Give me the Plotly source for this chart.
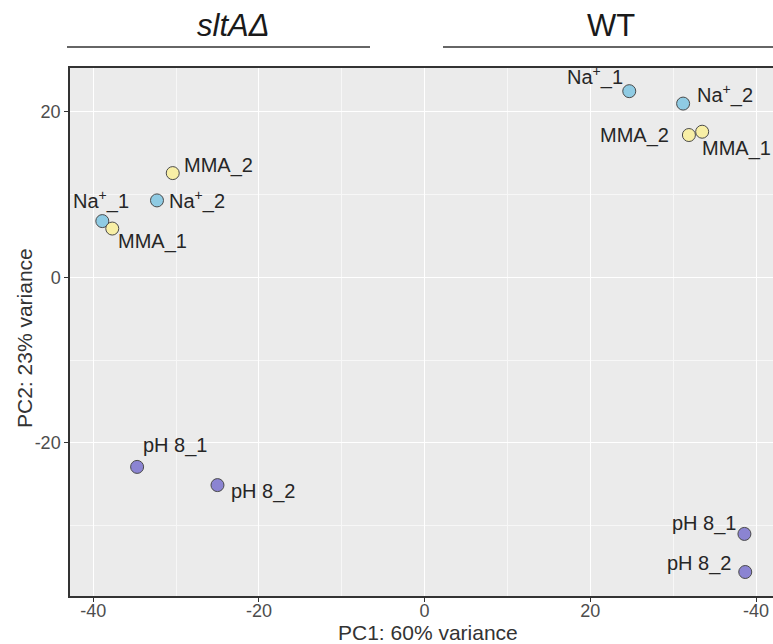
import plotly.graph_objects as go

# Data
labels = ["Na<sup>+</sup>_1", "MMA_1", "Na<sup>+</sup>_2", "MMA_2", "pH 8_1", "pH 8_2",
          "Na<sup>+</sup>_1", "Na<sup>+</sup>_2", "MMA_2", "MMA_1", "pH 8_1", "pH 8_2"]
condition = ["Na", "MMA", "Na", "MMA", "pH8", "pH8",
             "Na", "Na", "MMA", "MMA", "pH8", "pH8"]
pc1 = [-38.9, -37.7, -32.3, -30.4, -34.7, -25.0,
       24.7, 31.2, 31.9, 33.5, 38.6, 38.7]
pc2 = [6.8, 5.9, 9.3, 12.6, -22.9, -25.1,
       22.5, 21.0, 17.2, 17.6, -31.0, -35.6]
x_tickvals = [-40, -20, 0, 20, 40]
x_ticktext = ["-40", "-20", "0", "20", "-40"]
y_tickvals = [-20, 0, 20]
y_ticktext = ["-20", "0", "20"]
facets = ["<i>sltAΔ</i>", "WT"]

colors = {"Na": "#8FCBE3", "MMA": "#F8EFA6", "pH8": "#8B84D2"}

# label offsets (pixels) for repel-like placement
label_shift = [(-1, 21), (40, -13), (40, 0), (46, 8), (38, 21), (46, -6),
               (-34, 15), (42, 10), (-54, 0), (34, -17), (-40, 10), (-46, 9)]

W, H = 773, 644
L, R, T, B = 70, 0, 68, 48
pw, ph = W - L - R, H - T - B

def px2paper(p):
    return (p - L) / pw

def py2paper(py):
    return (H - B - py) / ph

fig = go.Figure()
fig.add_trace(go.Scatter(
    x=pc1, y=pc2, mode="markers",
    marker=dict(size=13, color=[colors[c] for c in condition],
                line=dict(color="#4A4A4A", width=1)),
    hoverinfo="skip", showlegend=False))

for xv, yv, lab, (dx, dy) in zip(pc1, pc2, labels, label_shift):
    fig.add_annotation(x=xv, y=yv, text=lab, showarrow=False,
                       xshift=dx, yshift=dy, xanchor="center", yanchor="middle",
                       font=dict(family="Liberation Sans, Arial", size=20, color="#262626"))

header_font = dict(family="Liberation Sans, Arial", size=31, color="#1a1a1a")
fig.add_annotation(x=px2paper(233), y=py2paper(26), xref="paper", yref="paper",
                   xanchor="center", yanchor="middle",
                   text=facets[0], showarrow=False, font=header_font)
fig.add_annotation(x=px2paper(611), y=py2paper(26), xref="paper", yref="paper",
                   xanchor="center", yanchor="middle",
                   text=facets[1], showarrow=False, font=header_font)

fig.add_shape(type="line", xref="paper", yref="paper",
              x0=px2paper(67), x1=px2paper(370), y0=py2paper(47), y1=py2paper(47),
              line=dict(color="#333333", width=1.5))
fig.add_shape(type="line", xref="paper", yref="paper",
              x0=px2paper(443), x1=px2paper(780), y0=py2paper(47), y1=py2paper(47),
              line=dict(color="#333333", width=1.5))

# axis titles
fig.add_annotation(x=px2paper(428), y=py2paper(632), xref="paper", yref="paper",
                   xanchor="center", yanchor="middle",
                   text="PC1: 60% variance", showarrow=False,
                   font=dict(family="Liberation Sans, Arial", size=21, color="#333333"))
fig.add_annotation(x=px2paper(24), y=py2paper(338), xref="paper", yref="paper",
                   xanchor="center", yanchor="middle",
                   text="PC2: 23% variance", showarrow=False, textangle=-90,
                   font=dict(family="Liberation Sans, Arial", size=21, color="#333333"))

fig.update_layout(
    width=W, height=H,
    margin=dict(l=L, r=R, t=T, b=B, autoexpand=False),
    paper_bgcolor="white", plot_bgcolor="#EBEBEB",
    font=dict(family="Liberation Sans, Arial", color="#4D4D4D"),
    xaxis=dict(range=[-42.8, 42.05], tickvals=x_tickvals, ticktext=x_ticktext,
               automargin=False, ticklabelstandoff=-6,
               showgrid=True, gridcolor="white", gridwidth=1.3, zeroline=False,
               minor=dict(tickvals=[-30, -10, 10, 30], showgrid=True,
                          gridcolor="#F7F7F7", gridwidth=0.6, ticks=""),
               ticks="outside", ticklen=4, tickcolor="#333333",
               tickfont=dict(size=18, color="#4D4D4D"),
               showline=True, linecolor="#333333", linewidth=1.5, mirror=True),
    yaxis=dict(range=[-38.5, 25.3], tickvals=y_tickvals, ticktext=y_ticktext,
               automargin=False,
               showgrid=True, gridcolor="white", gridwidth=1.3, zeroline=False,
               minor=dict(tickvals=[-30, -10, 10], showgrid=True,
                          gridcolor="#F7F7F7", gridwidth=0.6, ticks=""),
               ticks="outside", ticklen=4, tickcolor="#333333",
               tickfont=dict(size=18, color="#4D4D4D"),
               showline=True, linecolor="#333333", linewidth=1.5, mirror=False),
)

fig.write_html("out.html", config={"displayModeBar": False},
               post_script="document.body.style.margin='0';document.body.style.padding='0';")
